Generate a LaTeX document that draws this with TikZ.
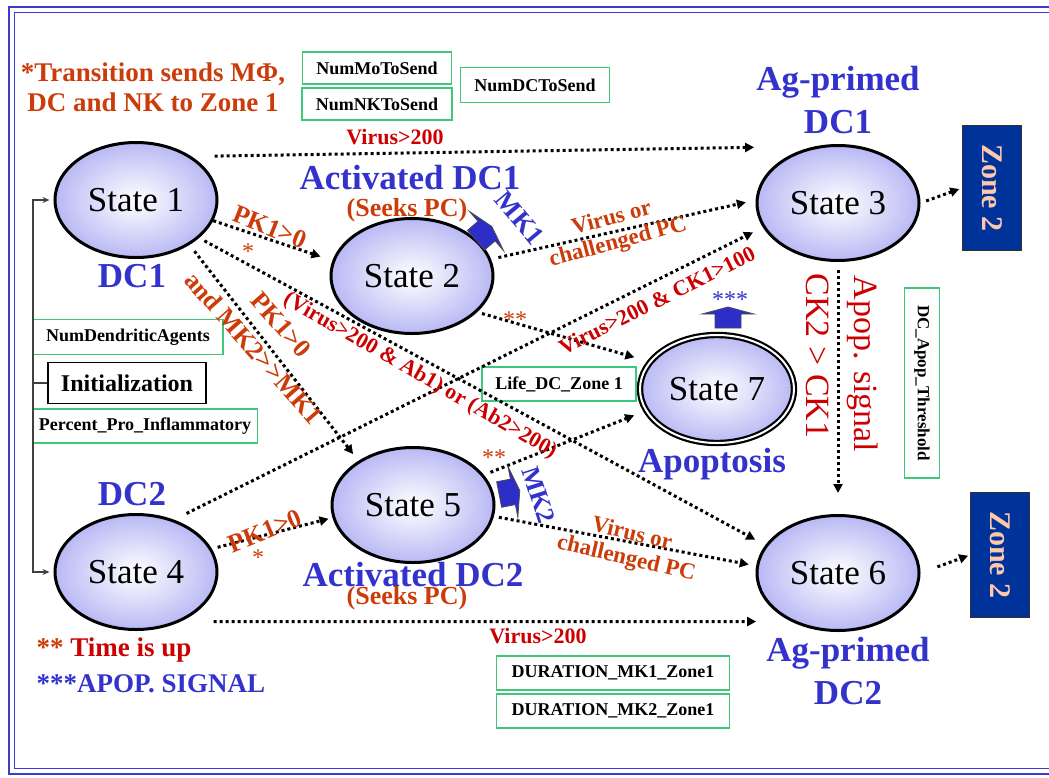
\documentclass[tikz,border=0pt]{standalone}
\usepackage{fontspec}
\setmainfont{Liberation Serif}
\usetikzlibrary{shapes.geometric,arrows.meta}
\definecolor{dblue}{RGB}{51,51,204}
\definecolor{ored}{RGB}{204,60,10}
\definecolor{dred}{RGB}{204,0,0}
\definecolor{gboxc}{RGB}{60,200,120}
\definecolor{zfill}{RGB}{0,51,153}
\definecolor{ztext}{RGB}{255,200,170}
\definecolor{lav}{RGB}{185,185,245}
\definecolor{framec}{RGB}{60,60,205}
\definecolor{barrow}{RGB}{45,45,200}
\newcommand{\myfs}[2]{\fontsize{#1}{#2}\selectfont}
\newcommand{\blockarrow}[3]{%
  \begin{scope}[shift={(#1,#2)},rotate=#3]
    \filldraw[fill=barrow,draw=black!70,line width=0.8pt]
      (-13,8) -- (-13,-6) -- (-26,-6) -- (0,-13) -- (26,-6) -- (13,-6) -- (13,8) -- cycle;
  \end{scope}}
\begin{document}
\begin{tikzpicture}[x=1pt,y=-1pt,
  state/.style={ellipse,draw,line width=3pt,minimum width=162pt,minimum height=115pt,
    inner sep=0pt,inner color=white,outer color=lav,font=\myfs{35}{40}},
  dots/.style={line width=3pt,dash pattern=on 3pt off 3pt,-{Triangle[length=9pt,width=9pt]}},
  gbox/.style={draw=gboxc,line width=1.5pt,font=\bfseries\myfs{18}{20},inner sep=0pt},
  zone/.style={draw=black!80,line width=1pt,fill=zfill,minimum width=59pt,minimum height=125pt,inner sep=0pt},
  ztxt/.style={text=ztext,font=\bfseries\myfs{30}{30},rotate=-90},
  blue/.style={text=dblue,font=\bfseries\myfs{35}{43},align=center},
  olab/.style={text=ored,font=\bfseries\myfs{26}{28},align=center},
  olabs/.style={text=ored,font=\bfseries\myfs{23}{25},align=center},
  rlab/.style={text=dred,font=\bfseries\myfs{22}{24},align=center},
  brk/.style={draw=black!75,line width=1.5pt},
  brkarrow/.style={brk,-{Stealth[length=7pt,width=6pt]}}
]
\useasboundingbox (0,0) rectangle (1049,777);
% frame
\draw[framec,line width=2.5pt] (1049,7) -- (9,7) -- (9,774) -- (1049,774);
\draw[framec,line width=1.5pt] (1049,12.5) -- (14.5,12.5) -- (14.5,768.5) -- (1049,768.5);

% states
\node[state] (s1) at (136,200) {State 1};
\node[state] (s2) at (412,276) {State 2};
\node[state] (s3) at (838,203) {State 3};
\node[state] (s4) at (136,572) {State 4};
\node[state] (s5) at (413,505) {State 5};
\node[state] (s6) at (838,573) {State 6};
\node[state,line width=2.2pt,double=white,double distance=2pt,minimum width=154pt,minimum height=108pt] (s7) at (717,389) {State 7};

% zone boxes
\node[zone] (z1) at (992,188) {};
\node[ztxt] (z1t) at (z1.center) {Zone 2};
\node[zone] (z2) at (1000,555) {};
\node[ztxt] (z2t) at (z2.center) {Zone 2};

% top notes
\node[text=ored,font=\bfseries\myfs{27}{30},align=center] (note1) at (153,87) {*Transition sends MΦ,\\DC and NK to Zone 1};
\node[gbox,minimum width=149pt,minimum height=32pt] (b1) at (377,68) {NumMoToSend};
\node[gbox,minimum width=150pt,minimum height=32pt] (b2) at (377,104) {NumNKToSend};
\node[gbox,minimum width=149pt,minimum height=35pt] (b3) at (535,85) {NumDCToSend};

% left boxes
\node[gbox,minimum width=190pt,minimum height=35pt] (b4) at (128,337) {NumDendriticAgents};
\node[draw=black,line width=1.5pt,minimum width=158pt,minimum height=41pt,inner sep=0pt,font=\bfseries\myfs{24}{26}] (init) at (127,383) {Initialization};
\node[gbox,minimum width=225pt,minimum height=34pt] (b5) at (145,426) {Percent\_Pro\_Inflammatory};
\node[gbox,minimum width=154pt,minimum height=34pt] (b6) at (559,384) {Life\_DC\_Zone 1};
\node[gbox,minimum width=35pt,minimum height=190pt] (b7) at (922,383) {};
\node[font=\bfseries\myfs{17}{18},rotate=-90] (b7t) at (b7.center) {DC\_Apop\_Threshold};
\node[gbox,minimum width=233pt,minimum height=34pt] (b8) at (613,673) {DURATION\_MK1\_Zone1};
\node[gbox,minimum width=233pt,minimum height=34pt] (b9) at (613,711) {DURATION\_MK2\_Zone1};

% bracket
\coordinate (bx) at (33,383);
\draw[brk] (init.west) -- (bx);
\draw[brkarrow,shorten >=4pt] (bx) |- (s1.west);
\draw[brkarrow,shorten >=4pt] (bx) |- (s4.west);

% connectors
\draw[dots,shorten <=23pt,shorten >=61pt] (s1.38) -- (s3.112);
\draw[dots,shorten <=0pt,shorten >=12.5pt] (s1.-15) -- (s2.169);
\draw[dots,shorten <=6pt,shorten >=11.5pt] (s1.-31) -- (s6.159);
\draw[dots,shorten <=8pt,shorten >=8.5pt] (s1.-40) -- (s5.141);
\draw[dots,shorten <=7.5pt,shorten >=10pt] (s2.12) -- (s3.178);
\draw[dots,shorten <=14pt,shorten >=11pt] (s4.54) -- (s3.198);
\draw[dots,shorten <=5pt,shorten >=15.5pt] (s2.-29) -- (s7.158);
\draw[dots,shorten <=7pt,shorten >=12pt] (s5.23) -- (s7.197);
\draw[dots,shorten <=5pt,shorten >=7.5pt] (s5.-8) -- (s6.175);
\draw[dots,shorten <=6pt,shorten >=4pt] (s4.17) -- (s5.189);
\draw[dots,shorten <=33pt,shorten >=35pt] (s4.-48) -- (s6.226);
\draw[dots,shorten <=8pt,shorten >=21pt] (s3.south) -- (s6.north);
\draw[dots,shorten <=6pt,shorten >=3pt] (s3.east) -- (z1.west);
\draw[dots,shorten <=18pt,shorten >=2pt] (s6.east) -- (z2.west);

% block arrows
\blockarrow{728}{320}{0}
\blockarrow{482}{235}{-49}
\blockarrow{507}{493}{-79}

% blue labels
\node[blue] (agp1) at (838,100) {Ag-primed\\DC1};
\node[blue] (act1) at (410,178) {Activated DC1};
\node[olab] (seek1) at (407,210) {(Seeks PC)};
\node[blue] (dc1) at (132,276) {DC1};
\node[blue] (dc2) at (132,494) {DC2};
\node[blue] (act2) at (413,575) {Activated DC2};
\node[olab] (seek2) at (407,598) {(Seeks PC)};
\node[blue] (apo) at (712,464) {Apoptosis};
\node[blue] (agp2) at (848,671) {Ag-primed\\DC2};
\node[text=dblue,font=\bfseries\myfs{27}{28},rotate=-50] (mk1) at (520,218) {MK1};
\node[text=dblue,font=\bfseries\myfs{26}{28},rotate=-72] (mk2) at (539,495) {MK2};
\node[text=dblue,font=\myfs{24}{24}] (st3) at (730,300) {***};

% transition labels
\node[rlab] (v1) at (395,137) {Virus>200};
\node[rlab] (v2) at (538,636) {Virus>200};
\node[olab,rotate=-21.6] (pk1) at (270,227) {PK1>0};
\node[olab,rotate=-48.6] (pk2) at (281,325) {PK1>0};
\node[olab,rotate=-48.6] (mk2mk1) at (254,348) {and MK2>\kern0pt>MK1};
\node[olab,rotate=22] (pk3) at (265,531) {PK1>0};
\node[text=ored,font=\myfs{24}{24}] (st1) at (248,252) {*};
\node[text=ored,font=\myfs{24}{24}] (st2) at (258,558) {*};
\node[text=ored,font=\myfs{24}{24}] (st4) at (515,320) {**};
\node[text=ored,font=\myfs{24}{24}] (st5) at (494,458) {**};
\node[rlab,rotate=-29.9] (vab) at (420,376) {(Virus>200 \& Ab1) or (Ab2>200)};
\node[rlab,rotate=26.6] (vck) at (657,300) {Virus>200 \& CK1>100};
\node[olabs,rotate=15] (vc1) at (615,231) {Virus or\\challenged PC};
\node[olabs,rotate=-13] (vc2) at (629,547) {Virus or\\challenged PC};
\node[text=dred,font=\myfs{34}{36},rotate=-90] (ck) at (818,356) {CK2 > CK1};
\node[text=dred,font=\myfs{34}{36},rotate=-90] (aps) at (863,364) {Apop. signal};

% legend
\node[anchor=west,font=\bfseries\myfs{27}{30}] (leg1) at (33,650) {\textcolor{ored}{**} \textcolor{dred}{Time is up}};
\node[anchor=west,font=\bfseries\myfs{27}{30},text=dblue] (leg2) at (33,684) {***APOP. SIGNAL};
\end{tikzpicture}
\end{document}
